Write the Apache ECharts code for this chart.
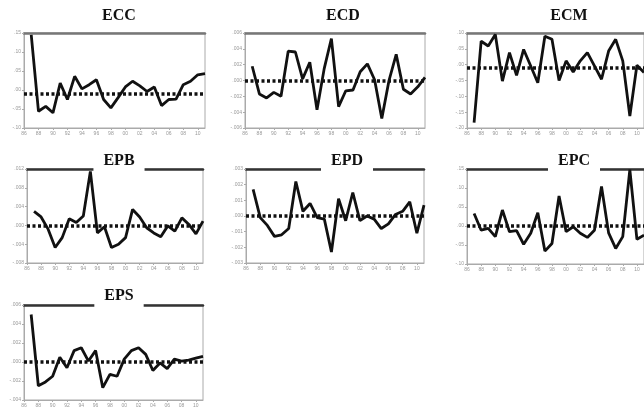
<!DOCTYPE html>
<html>
<head>
<meta charset="utf-8">
<script src="https://cdn.jsdelivr.net/npm/echarts@6/dist/echarts.min.js"></script>
<style>html,body{margin:0;padding:0;background:#fff;}#c{width:644px;height:409px;}</style>
</head>
<body>
<div id="c"></div>
<script>
const years = [1987,1988,1989,1990,1991,1992,1993,1994,1995,1996,1997,1998,1999,2000,2001,2002,2003,2004,2005,2006,2007,2008,2009,2010,2011];
const ECC = [0.145,-0.056,-0.043,-0.060,0.018,-0.025,0.036,0.003,0.014,0.027,-0.025,-0.047,-0.020,0.008,0.023,0.011,-0.004,0.008,-0.041,-0.025,-0.024,0.014,0.023,0.040,0.043];
const ECD = [0.0018,-0.0017,-0.0022,-0.0015,-0.0020,0.0037,0.0036,0.0002,0.0023,-0.0037,0.0015,0.0053,-0.0033,-0.0013,-0.0012,0.0011,0.0021,0.0001,-0.0048,0.0000,0.0033,-0.0011,-0.0017,-0.0008,0.0004];
const ECM = [-0.183,0.074,0.059,0.095,-0.052,0.038,-0.034,0.048,-0.004,-0.057,0.090,0.080,-0.050,0.012,-0.023,0.012,0.038,-0.004,-0.046,0.043,0.080,0.012,-0.162,-0.002,-0.025];
const EPB = [0.0030,0.0018,-0.0008,-0.0047,-0.0026,0.0014,0.0006,0.0020,0.0115,-0.0016,-0.0003,-0.0047,-0.0040,-0.0026,0.0034,0.0018,-0.0005,-0.0016,-0.0024,-0.0001,-0.0012,0.0016,0.0002,-0.0018,0.0009];
const EPD = [0.0017,-0.0001,-0.0006,-0.0013,-0.0012,-0.0008,0.0022,0.0003,0.0008,-0.0001,-0.0002,-0.0023,0.0011,-0.0003,0.0015,-0.0003,0.0000,-0.0002,-0.0008,-0.0005,0.0001,0.0003,0.0009,-0.0011,0.0007];
const EPC = [0.033,-0.011,-0.006,-0.028,0.042,-0.015,-0.012,-0.048,-0.019,0.035,-0.066,-0.046,0.079,-0.015,-0.002,-0.019,-0.030,-0.011,0.104,-0.018,-0.059,-0.028,0.148,-0.035,-0.024];
const EPS = [0.0050,-0.0025,-0.0021,-0.0015,0.0005,-0.0006,0.0012,0.0015,0.0001,0.0012,-0.0027,-0.0013,-0.0015,0.0003,0.0012,0.0015,0.0008,-0.0009,-0.0001,-0.0007,0.0003,0.0001,0.0002,0.0004,0.0006];
const names = ['ECC','ECD','ECM','EPB','EPD','EPC','EPS'];
const seriesData = [ECC,ECD,ECM,EPB,EPD,EPC,EPS];
const refLevels = [-0.008,-0.0003,-0.009,-0.0002,0.0002,-0.001,-0.0002];
const yMin = [-0.10,-0.006,-0.20,-0.008,-0.003,-0.10,-0.004];
const yMax = [0.15,0.006,0.10,0.012,0.003,0.15,0.006];
const yStep = [0.05,0.002,0.05,0.004,0.001,0.05,0.002];
const yDec = [2,3,2,3,3,2,3];

const panels = [
  {left:24, top:33, width:181, height:95, tx:109, ty:5, topColor:'#777'},
  {left:245, top:33, width:180, height:95, tx:333, ty:5, topColor:'#777'},
  {left:467, top:33, width:180, height:95, tx:559, ty:5, topColor:'#777'},
  {left:27, top:169, width:176, height:94, tx:109, ty:150, topColor:'#333'},
  {left:246, top:169, width:178, height:94, tx:337, ty:150, topColor:'#333'},
  {left:467, top:169, width:180, height:95, tx:564, ty:150, topColor:'#333'},
  {left:24, top:305, width:179, height:95, tx:109, ty:285, topColor:'#333'}
];

function fmt(d){
  return function(v){
    const s = Math.abs(v).toFixed(d).replace(/^0/, '');
    return (v < -1e-12 ? '-' : '') + s;
  };
}

const grid=[], xAxis=[], yAxis=[], series=[], title=[];
panels.forEach((p,i)=>{
  grid.push({left:p.left, top:p.top, width:p.width, height:p.height, show:true, borderColor:'#aaa', borderWidth:1, containLabel:false});
  xAxis.push({type:'value', gridIndex:i, min:1986, max:2011, interval:2,
    axisLine:{show:true, onZero:false, lineStyle:{color:'#aaa', width:1}},
    axisTick:{show:true, length:2, lineStyle:{color:'#aaa'}},
    axisLabel:{fontSize:5, color:'#999', margin:3, showMaxLabel:false, formatter:v=>String(v).slice(2)},
    splitLine:{show:false}});
  xAxis.push({type:'value', gridIndex:i, position:'top', min:1986, max:2011,
    axisLine:{show:true, onZero:false, lineStyle:{color:p.topColor, width:2.5}},
    axisTick:{show:false}, axisLabel:{show:false}, splitLine:{show:false}});
  yAxis.push({type:'value', gridIndex:i, min:yMin[i], max:yMax[i], interval:yStep[i],
    axisLine:{show:true, onZero:false, lineStyle:{color:'#aaa', width:1}},
    axisTick:{show:true, length:2, lineStyle:{color:'#aaa'}},
    axisLabel:{fontSize:5, color:'#999', margin:3, formatter:fmt(yDec[i])},
    splitLine:{show:false}});
  series.push({type:'line', xAxisIndex:2*i, yAxisIndex:i, symbol:'none',
    data: years.map((y,k)=>[y, seriesData[i][k]]),
    lineStyle:{color:'#111', width:2.8}, z:3,
    markLine:{silent:true, symbol:['none','none'], label:{show:false},
      lineStyle:{color:'#111', type:[3,2.5], width:3.5},
      data:[{yAxis:refLevels[i]}]}});
  title.push({text:names[i], left:p.tx, top:p.ty, textAlign:'center',
    backgroundColor:'#fff', padding:[3,10,5,10],
    textStyle:{fontFamily:'Liberation Serif', fontWeight:'bold', fontSize:16, color:'#111'}});
});

const chart = echarts.init(document.getElementById('c'), null, {renderer:'canvas'});
chart.setOption({animation:false, backgroundColor:'#fff', title, grid, xAxis, yAxis, series});
</script>
</body>
</html>
